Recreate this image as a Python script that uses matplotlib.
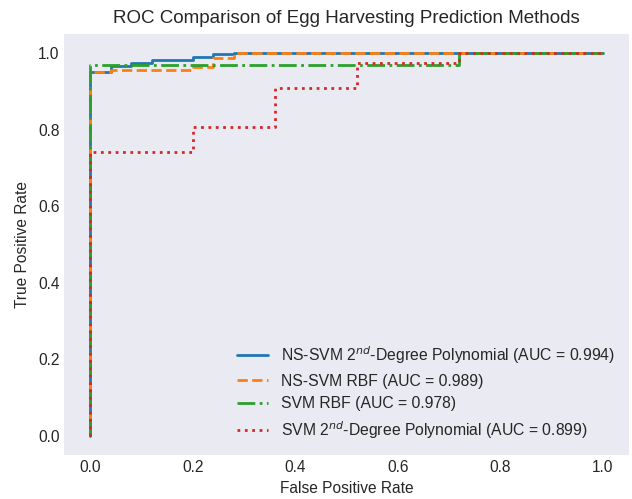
import matplotlib
matplotlib.use("Agg")
import matplotlib.pyplot as plt

plt.style.use("seaborn-v0_8-dark")
plt.rcParams['font.family'] = ['Liberation Sans', 'DejaVu Sans']

fpr_ns_poly = [0.0, 0.0, 0.04, 0.04, 0.08, 0.08, 0.12, 0.12, 0.20, 0.20, 0.24, 0.24, 0.28, 0.28, 1.0]
tpr_ns_poly = [0.0, 0.950, 0.950, 0.967, 0.967, 0.975, 0.975, 0.983, 0.983, 0.990, 0.990, 0.997, 0.997, 1.0, 1.0]

fpr_ns_rbf = [0.0, 0.0, 0.04, 0.04, 0.20, 0.20, 0.24, 0.24, 0.28, 0.28, 1.0]
tpr_ns_rbf = [0.0, 0.950, 0.950, 0.955, 0.955, 0.963, 0.963, 0.986, 0.986, 1.0, 1.0]

fpr_svm_rbf = [0.0, 0.0, 0.72, 0.72, 1.0]
tpr_svm_rbf = [0.0, 0.969, 0.969, 1.0, 1.0]

fpr_svm_poly = [0.0, 0.0, 0.20, 0.20, 0.36, 0.36, 0.52, 0.52, 0.72, 0.72, 1.0]
tpr_svm_poly = [0.0, 0.742, 0.742, 0.806, 0.806, 0.910, 0.910, 0.973, 0.973, 1.0, 1.0]

labels = [
    r"NS-SVM 2$^{nd}$-Degree Polynomial (AUC = 0.994)",
    "NS-SVM RBF (AUC = 0.989)",
    "SVM RBF (AUC = 0.978)",
    r"SVM 2$^{nd}$-Degree Polynomial (AUC = 0.899)",
]

fig = plt.figure(figsize=(6.32, 4.99), dpi=100)
ax = fig.add_axes([0.102, 0.088, 0.8926, 0.844])
ax.plot(fpr_ns_poly, tpr_ns_poly, color="#1f77b4", lw=2, ls="-", label=labels[0])
ax.plot(fpr_ns_rbf, tpr_ns_rbf, color="#ff7f0e", lw=2, ls="--", label=labels[1])
ax.plot(fpr_svm_rbf, tpr_svm_rbf, color="#2ca02c", lw=2, ls="-.", label=labels[2])
ax.plot(fpr_svm_poly, tpr_svm_poly, color="#d62728", lw=2, ls=":", label=labels[3])

ax.set_title("ROC Comparison of Egg Harvesting Prediction Methods", fontsize=13.5, pad=8)
ax.set_xlabel("False Positive Rate", fontsize=11.2, labelpad=4)
ax.set_ylabel("True Positive Rate", fontsize=11.2, labelpad=6)
ax.tick_params(labelsize=11.2)
ax.legend(loc="lower right", fontsize=11.3)
fig.savefig("out.png", dpi=100)
